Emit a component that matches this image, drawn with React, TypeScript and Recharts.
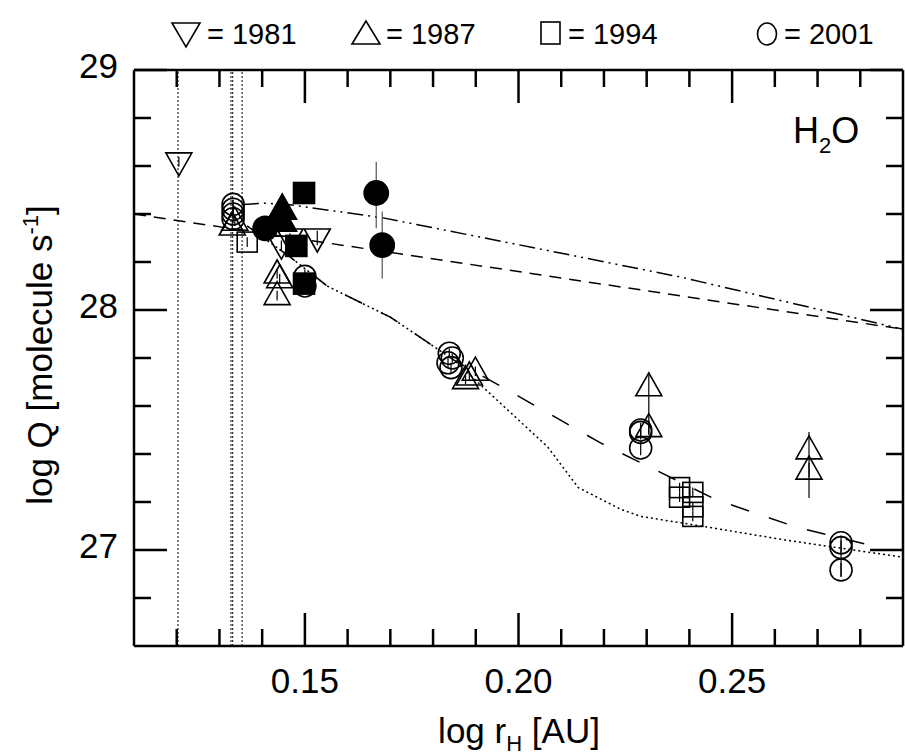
import { ComposedChart, XAxis, YAxis, Scatter, Line, ErrorBar, ReferenceLine } from 'recharts';

const FONT = '"Liberation Sans", Arial, Helvetica, sans-serif';

// axis ticks
const xMajor = [0.15, 0.2, 0.25];
const xTicks = [0.12, 0.13, 0.14, 0.15, 0.16, 0.17, 0.18, 0.19, 0.2, 0.21, 0.22, 0.23, 0.24, 0.25, 0.26, 0.27, 0.28];
const yMajor = [27, 28, 29];
const yTicks = [26.8, 27, 27.2, 27.4, 27.6, 27.8, 28, 28.2, 28.4, 28.6, 28.8, 29];

// perihelion / reference dates (vertical dotted lines)
const vLines = [0.1203, 0.1327, 0.1331, 0.1353];

// observations: x = log rH, y = log Q, err = [down, up]
const obs1981 = [
  { x: 0.1205, y: 28.617, err: [0.02, 0.02] },
  { x: 0.1445, y: 28.27, err: [0.02, 0.02] },
  { x: 0.1465, y: 28.3, err: [0.02, 0.02] },
  { x: 0.1529, y: 28.3, err: [0.03, 0.03] },
];
const obs1987 = [
  { x: 0.133, y: 28.35, err: [0.02, 0.02] },
  { x: 0.1336, y: 28.37, err: [0.02, 0.02] },
  { x: 0.1435, y: 28.15, err: [0.02, 0.02] },
  { x: 0.1441, y: 28.13, err: [0.02, 0.02] },
  { x: 0.1435, y: 28.06, err: [0.02, 0.02] },
  { x: 0.1876, y: 27.71, err: [0.02, 0.02] },
  { x: 0.1885, y: 27.725, err: [0.02, 0.02] },
  { x: 0.1899, y: 27.745, err: [0.02, 0.02] },
  { x: 0.2305, y: 27.68, err: [0.2, 0.05] },
  { x: 0.2305, y: 27.51, err: [0.03, 0.03] },
  { x: 0.268, y: 27.417, err: [0.2, 0.075] },
  { x: 0.268, y: 27.333, err: [0.03, 0.03] },
];
const obs1994 = [
  { x: 0.1365, y: 28.283, err: [0.02, 0.02] },
  { x: 0.2377, y: 27.26, err: [0.02, 0.02] },
  { x: 0.2377, y: 27.22, err: [0.02, 0.02] },
  { x: 0.2408, y: 27.24, err: [0.02, 0.02] },
  { x: 0.2408, y: 27.18, err: [0.02, 0.02] },
  { x: 0.2408, y: 27.14, err: [0.02, 0.02] },
];
const obs2001 = [
  { x: 0.1332, y: 28.44, err: [0.02, 0.02] },
  { x: 0.1332, y: 28.42, err: [0.02, 0.02] },
  { x: 0.1332, y: 28.4, err: [0.02, 0.02] },
  { x: 0.1332, y: 28.38, err: [0.02, 0.02] },
  { x: 0.15, y: 28.14, err: [0.03, 0.03] },
  { x: 0.15, y: 28.1, err: [0.03, 0.03] },
  { x: 0.1838, y: 27.82, err: [0.02, 0.02] },
  { x: 0.1845, y: 27.8, err: [0.02, 0.02] },
  { x: 0.1835, y: 27.78, err: [0.02, 0.02] },
  { x: 0.1842, y: 27.76, err: [0.02, 0.02] },
  { x: 0.2286, y: 27.5, err: [0.03, 0.03] },
  { x: 0.2286, y: 27.49, err: [0.03, 0.03] },
  { x: 0.2286, y: 27.425, err: [0.03, 0.03] },
  { x: 0.2755, y: 27.03, err: [0.14, 0.03] },
  { x: 0.2755, y: 27.01, err: [0.03, 0.03] },
  { x: 0.2755, y: 26.917, err: [0.03, 0.03] },
];
const filledCircles = [
  { x: 0.1407, y: 28.34, err: [0.02, 0.02] },
  { x: 0.1667, y: 28.4875, err: [0.147, 0.13] },
  { x: 0.1681, y: 28.27, err: [0.14, 0.14] },
];
const filledTriangles = [
  { x: 0.1447, y: 28.42, err: [0.02, 0.02] },
  { x: 0.1447, y: 28.37, err: [0.02, 0.02] },
];
const filledSquares = [
  { x: 0.1498, y: 28.4875, err: [0.02, 0.02] },
  { x: 0.148, y: 28.267, err: [0.02, 0.02] },
  { x: 0.1498, y: 28.11, err: [0.02, 0.02] },
];

// model curves
const modelDashDot = [
  { x: 0.1355, y: 28.44 }, { x: 0.141, y: 28.445 }, { x: 0.147, y: 28.437 },
  { x: 0.168, y: 28.385 }, { x: 0.2, y: 28.272 }, { x: 0.238, y: 28.137 }, { x: 0.29, y: 27.92 },
];
const modelShortDash = [{ x: 0.11, y: 28.4 }, { x: 0.29, y: 27.92 }];
const modelLongDash = [
  { x: 0.1365, y: 28.35 }, { x: 0.1466, y: 28.22 }, { x: 0.1552, y: 28.1 }, { x: 0.17, y: 27.97 },
  { x: 0.185, y: 27.79 }, { x: 0.1974, y: 27.667 }, { x: 0.2192, y: 27.446 }, { x: 0.2462, y: 27.21 },
  { x: 0.2649, y: 27.096 }, { x: 0.2845, y: 27.01 },
];
const modelDotted = [
  { x: 0.1365, y: 28.35 }, { x: 0.1466, y: 28.22 }, { x: 0.1552, y: 28.1 }, { x: 0.17, y: 27.97 },
  { x: 0.185, y: 27.79 }, { x: 0.1904, y: 27.7 }, { x: 0.2068, y: 27.43 }, { x: 0.214, y: 27.26 },
  { x: 0.2239, y: 27.17 }, { x: 0.2286, y: 27.14 }, { x: 0.2427, y: 27.1 }, { x: 0.263, y: 27.04 },
  { x: 0.29, y: 26.97 },
];

const near = (v: number, list: number[]) => list.some((m) => Math.abs(m - v) < 1e-6);

const XTickBottom = (p: any) => {
  const { x, y, payload } = p;
  const major = near(payload.value, xMajor);
  return (
    <g>
      <line x1={x} x2={x} y1={y} y2={y - (major ? 33 : 17)} stroke="#000" strokeWidth={2.5} />
      {major && (
        <text x={x} y={y + 47} textAnchor="middle" fontSize={35} fontFamily={FONT} fill="#000">
          {payload.value.toFixed(2)}
        </text>
      )}
    </g>
  );
};
const XTickTop = (p: any) => {
  const { x, y, payload } = p;
  const major = near(payload.value, xMajor);
  return <line x1={x} x2={x} y1={y} y2={y + (major ? 33 : 17)} stroke="#000" strokeWidth={2.5} />;
};
const YTickLeft = (p: any) => {
  const { x, y, payload } = p;
  const major = near(payload.value, yMajor);
  return (
    <g>
      <line x1={x} x2={x + (major ? 33 : 17)} y1={y} y2={y} stroke="#000" strokeWidth={2.5} />
      {major && (
        <text x={x - 16} y={y + 8} textAnchor="end" fontSize={35} fontFamily={FONT} fill="#000">
          {payload.value}
        </text>
      )}
    </g>
  );
};
const YTickRight = (p: any) => {
  const { x, y, payload } = p;
  const major = near(payload.value, yMajor);
  return <line x1={x} x2={x - (major ? 33 : 17)} y1={y} y2={y} stroke="#000" strokeWidth={2.5} />;
};

type Kind = 'down' | 'up' | 'square' | 'circle';
const mark = (kind: Kind, filled: boolean, scale = 1) => (p: any) => {
  const { cx, cy } = p;
  if (cx == null || cy == null) return <g />;
  const fill = filled ? '#000' : 'none';
  const sw = 1.6;
  if (kind === 'circle') return <circle cx={cx} cy={cy} r={11 * scale} fill={fill} stroke="#000" strokeWidth={sw} />;
  if (kind === 'square') {
    const h = 10 * scale;
    return <rect x={cx - h} y={cy - h} width={2 * h} height={2 * h} fill={fill} stroke="#000" strokeWidth={sw} />;
  }
  const w = 13 * scale;
  const t = 14 * scale;
  const b = 9 * scale;
  const pts =
    kind === 'up'
      ? `${cx},${cy - t} ${cx - w},${cy + b} ${cx + w},${cy + b}`
      : `${cx},${cy + t} ${cx - w},${cy - b} ${cx + w},${cy - b}`;
  return <polygon points={pts} fill={fill} stroke="#000" strokeWidth={sw} strokeLinejoin="miter" />;
};

const series: { data: any[]; shape: any; bar: string }[] = [
  { data: obs1994, shape: mark('square', false), bar: '#000' },
  { data: obs1987, shape: mark('up', false), bar: '#000' },
  { data: obs1981, shape: mark('down', false), bar: '#000' },
  { data: obs2001, shape: mark('circle', false), bar: '#000' },
  { data: filledSquares, shape: mark('square', true, 1.05), bar: '#444' },
  { data: filledTriangles, shape: mark('up', true, 1.1), bar: '#444' },
  { data: filledCircles, shape: mark('circle', true, 1.1), bar: '#555' },
];

export default function App() {
  return (
    <div style={{ position: 'absolute', left: 0, top: 0, width: 905, height: 756, background: '#fff', fontFamily: FONT }}>
      <ComposedChart width={905} height={756} margin={{ top: 69, right: 1, bottom: 0, left: 0 }}>
        <XAxis
          type="number"
          dataKey="x"
          domain={[0.11, 0.29]}
          allowDataOverflow
          ticks={xTicks}
          interval={0}
          tickSize={0}
          tickMargin={0}
          tick={<XTickBottom />}
          height={110}
          axisLine={{ stroke: '#000', strokeWidth: 2.5 }}
        />
        <XAxis
          xAxisId="top"
          orientation="top"
          type="number"
          dataKey="x"
          domain={[0.11, 0.29]}
          allowDataOverflow
          ticks={xTicks}
          interval={0}
          tickSize={0}
          tickMargin={0}
          tick={<XTickTop />}
          height={1}
          axisLine={{ stroke: '#000', strokeWidth: 2.5 }}
        />
        <YAxis
          type="number"
          dataKey="y"
          domain={[26.6, 29]}
          allowDataOverflow
          ticks={yTicks}
          interval={0}
          tickSize={0}
          tickMargin={0}
          tick={<YTickLeft />}
          width={134}
          axisLine={{ stroke: '#000', strokeWidth: 2.5 }}
        />
        <YAxis
          yAxisId="right"
          orientation="right"
          type="number"
          dataKey="y"
          domain={[26.6, 29]}
          allowDataOverflow
          ticks={yTicks}
          interval={0}
          tickSize={0}
          tickMargin={0}
          tick={<YTickRight />}
          width={1}
          axisLine={{ stroke: '#000', strokeWidth: 2.5 }}
        />
        {vLines.map((v) => (
          <ReferenceLine key={v} x={v} stroke="#000" strokeWidth={1} strokeDasharray="2 2" />
        ))}
        <Line data={modelShortDash} dataKey="y" type="linear" dot={false} stroke="#000" strokeWidth={1.5} strokeDasharray="12 8" isAnimationActive={false} />
        <Line data={modelDashDot} dataKey="y" type="linear" dot={false} stroke="#000" strokeWidth={1.5} strokeDasharray="16 5 2 5 2 5" isAnimationActive={false} />
        <Line data={modelLongDash} dataKey="y" type="linear" dot={false} stroke="#000" strokeWidth={1.5} strokeDasharray="19 21" isAnimationActive={false} />
        <Line data={modelDotted} dataKey="y" type="linear" dot={false} stroke="#000" strokeWidth={1.5} strokeDasharray="2 3" isAnimationActive={false} />
        {series.map((s, i) => (
          <Scatter key={i} data={s.data} dataKey="y" shape={s.shape} isAnimationActive={false}>
            <ErrorBar dataKey="err" direction="y" width={0} stroke={s.bar} strokeWidth={1.2} />
          </Scatter>
        ))}
      </ComposedChart>
      <svg width={905} height={756} style={{ position: 'absolute', left: 0, top: 0, pointerEvents: 'none' }}>
        <g fontFamily={FONT} fontSize={29} fill="#000">
          <polygon points="172,23 200,23 186,47" fill="none" stroke="#000" strokeWidth={1.6} />
          <text x={207} y={44}>= 1981</text>
          <polygon points="366,21 352,44 380,44" fill="none" stroke="#000" strokeWidth={1.6} />
          <text x={386} y={44}>= 1987</text>
          <rect x={541} y={22} width={19} height={22} fill="none" stroke="#000" strokeWidth={1.6} />
          <text x={568} y={44}>= 1994</text>
          <ellipse cx={767} cy={34} rx={9.5} ry={11} fill="none" stroke="#000" strokeWidth={1.6} />
          <text x={784} y={44}>= 2001</text>
        </g>
        <text x={793} y={143} fontFamily={FONT} fontSize={36} fill="#000">
          H<tspan fontSize={22} dy={10}>2</tspan><tspan dy={-10}>O</tspan>
        </text>
        <text x={519} y={743} textAnchor="middle" fontFamily={FONT} fontSize={35} fill="#000">
          log r<tspan fontSize={22} dy={8}>H</tspan><tspan dy={-8}> [AU]</tspan>
        </text>
        <text
          transform="translate(52,355) rotate(-90)"
          textAnchor="middle"
          fontFamily={FONT}
          fontSize={35}
          fill="#000"
        >
          log Q [molecule s<tspan fontSize={22} dy={-14}>-1</tspan><tspan dy={14}>]</tspan>
        </text>
      </svg>
    </div>
  );
}
